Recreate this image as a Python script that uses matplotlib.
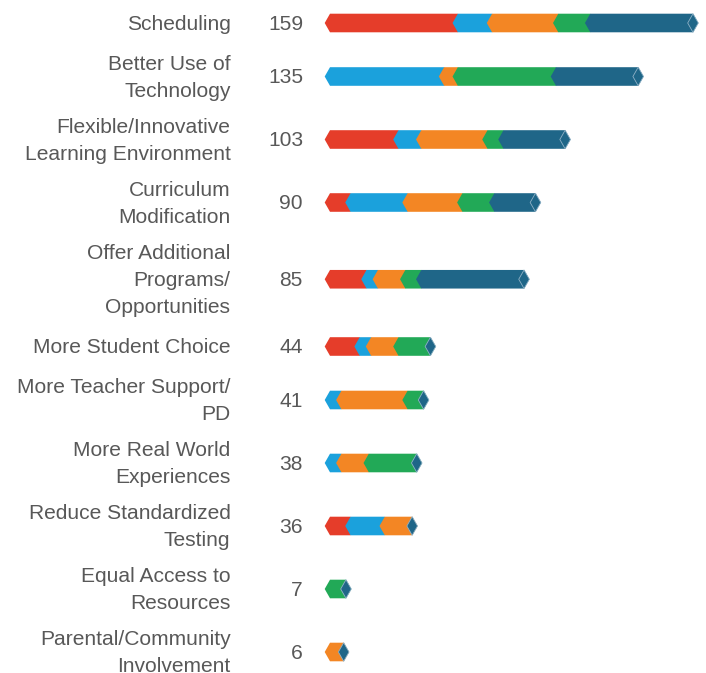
import matplotlib
matplotlib.use("Agg")
import matplotlib.pyplot as plt
import matplotlib.transforms as mtransforms
from matplotlib.patches import Polygon

# ---------------- data ----------------
categories = [
    "Scheduling",
    "Better Use of\nTechnology",
    "Flexible/Innovative\nLearning Environment",
    "Curriculum\nModification",
    "Offer Additional\nPrograms/\nOpportunities",
    "More Student Choice",
    "More Teacher Support/\nPD",
    "More Real World\nExperiences",
    "Reduce Standardized\nTesting",
    "Equal Access to\nResources",
    "Parental/Community\nInvolvement",
]
totals = [159, 135, 103, 90, 85, 44, 41, 38, 36, 7, 6]

red_vals   = [56, 0, 30, 9, 16, 13, 0, 0, 9, 0, 0]
lblue_vals = [15, 50, 10, 25, 5, 5, 5, 5, 15, 0, 0]
orange_vals = [29, 6, 29, 24, 12, 12, 29, 12, 12, 0, 6]
green_vals = [14, 43, 7, 14, 7, 14, 7, 21, 0, 7, 0]
dblue_vals = [45, 36, 27, 18, 45, 0, 0, 0, 0, 0, 0]

series = [red_vals, lblue_vals, orange_vals, green_vals, dblue_vals]
colors = ["#e53d2a", "#1ba1dc", "#f38624", "#22a957", "#1f6688"]
cap_color = "#1f6688"
text_color = "#585858"

# ---------------- layout ----------------
W, H = 706, 673
fig = plt.figure(figsize=(W / 100, H / 100), dpi=100)
px_per_unit = 2.283
bar_left_px = 330
ax = fig.add_axes([bar_left_px / W, 0, (W - bar_left_px) / W, 1])
ax.set_xlim(0, (W - bar_left_px) / px_per_unit)
ax.set_ylim(H, 0)
ax.axis("off")

tip = 5.3 / px_per_unit      # horizontal depth of the pointed ends (data units)
half_h = 9.3                 # half bar height (pixels)
line_step = 27.0
base_off = 6.6

trans_lbl = mtransforms.blended_transform_factory(fig.transFigure, ax.transData)
plt.rcParams["font.family"] = ["Liberation Sans", "DejaVu Sans"]
fs = 15.1

# row centres from label line counts
centers = []
top = 1.0
for cat in categories:
    n = cat.count("\n") + 1
    h = max(44.0, 27.5 * n + 8.0)
    centers.append(top + h / 2)
    top += h

z = 2
for i, (cat, tot, y) in enumerate(zip(categories, totals, centers)):
    # label lines
    lines = cat.split("\n")
    n = len(lines)
    for k, ln in enumerate(lines):
        yc = y + (k - (n - 1) / 2) * line_step
        ax.text(230.5 / W, yc + base_off, ln, transform=trans_lbl, ha="right",
                va="baseline", fontsize=fs, color=text_color)
    ax.text(303 / W, y + base_off, str(tot), transform=trans_lbl, ha="right",
            va="baseline", fontsize=fs, color=text_color)

    # segments
    start = 0.0
    for vals, col in zip(series, colors):
        v = vals[i]
        if v <= 0:
            continue
        pts = [(start - tip, y), (start, y - half_h), (start + v, y - half_h),
               (start + v + tip, y), (start + v, y + half_h), (start, y + half_h)]
        ax.add_patch(Polygon(pts, closed=True, facecolor=col, edgecolor="none",
                             zorder=z, clip_on=False))
        z += 1
        start += v
    # end cap diamond
    pts = [(start - tip, y), (start, y - half_h), (start + tip, y), (start, y + half_h)]
    ax.add_patch(Polygon(pts, closed=True, facecolor=cap_color, edgecolor="#8fb1c6",
                         linewidth=0.6, zorder=z, clip_on=False))
    z += 1

fig.savefig("out.png", dpi=100)
